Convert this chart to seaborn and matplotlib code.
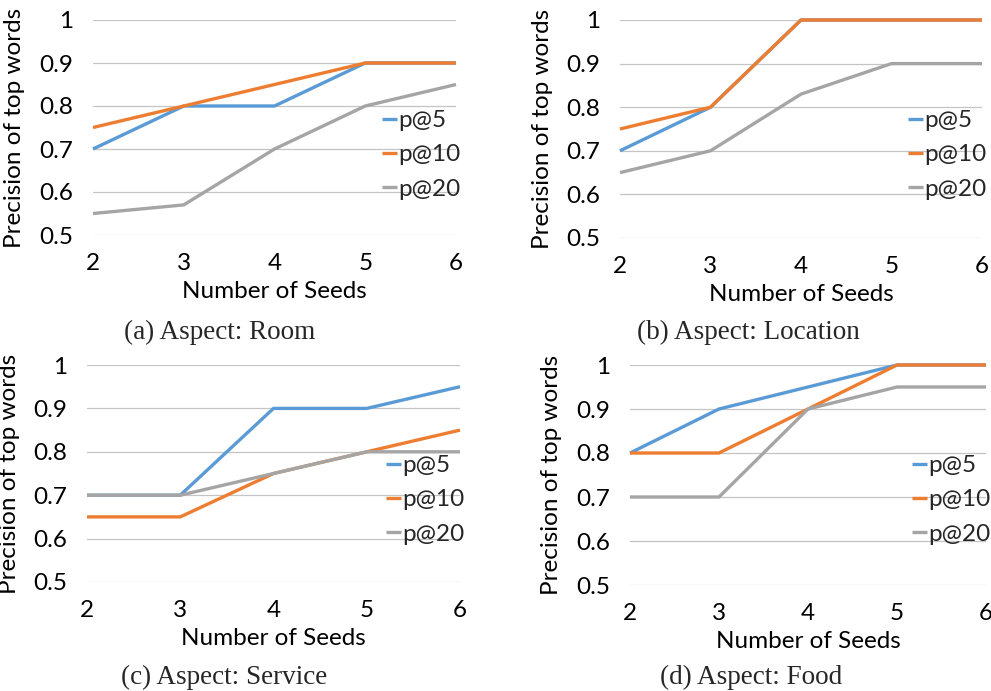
import matplotlib
matplotlib.use("Agg")
import matplotlib.pyplot as plt
import pandas as pd
import seaborn as sns

seeds = [2, 3, 4, 5, 6]
series_names = ["p@5", "p@10", "p@20"]
colors = ["#5B9BD5", "#ED7D31", "#A5A5A5"]

room_p5 = [0.70, 0.80, 0.80, 0.90, 0.90]
room_p10 = [0.75, 0.80, 0.85, 0.90, 0.90]
room_p20 = [0.55, 0.57, 0.70, 0.80, 0.85]

location_p5 = [0.70, 0.80, 1.00, 1.00, 1.00]
location_p10 = [0.75, 0.80, 1.00, 1.00, 1.00]
location_p20 = [0.65, 0.70, 0.83, 0.90, 0.90]

service_p5 = [0.70, 0.70, 0.90, 0.90, 0.95]
service_p10 = [0.65, 0.65, 0.75, 0.80, 0.85]
service_p20 = [0.70, 0.70, 0.75, 0.80, 0.80]

food_p5 = [0.80, 0.90, 0.95, 1.00, 1.00]
food_p10 = [0.80, 0.80, 0.90, 1.00, 1.00]
food_p20 = [0.70, 0.70, 0.90, 0.95, 0.95]

y_ticks = [0.5, 0.6, 0.7, 0.8, 0.9, 1.0]
y_tick_labels = ["0.5", "0.6", "0.7", "0.8", "0.9", "1"]

panels = [
    ("(a) Aspect: Room", [room_p5, room_p10, room_p20]),
    ("(b) Aspect: Location", [location_p5, location_p10, location_p20]),
    ("(c) Aspect: Service", [service_p5, service_p10, service_p20]),
    ("(d) Aspect: Food", [food_p5, food_p10, food_p20]),
]

sns.set_theme(style="white")
plt.rcParams["font.family"] = ["Lato", "DejaVu Sans"]

W, H = 991, 691
fig = plt.figure(figsize=(W / 100, H / 100), dpi=100)

FS = 17.5

# axes boxes in pixels: left, right, top, bottom
boxes = [(93, 456, 20, 235), (620, 982, 20, 238),
         (87, 460, 365, 582), (630, 986, 365, 585)]
legend_x = [382, 908, 386, 912]
legend_top = [110, 110, 455, 455]
ylabel_x = [25, 553, 20, 562]
caption_pos = [(220, 332), (748, 332), (224, 677), (751, 677)]

for i, (caption, values) in enumerate(panels):
    l, r, t, b = boxes[i]
    ax = fig.add_axes([l / W, 1 - b / H, (r - l) / W, (b - t) / H])
    df = pd.DataFrame({
        "seeds": seeds * 3,
        "precision": values[0] + values[1] + values[2],
        "series": [n for n in series_names for _ in seeds],
    })
    sns.lineplot(data=df, x="seeds", y="precision", hue="series",
                 hue_order=series_names, palette=colors, linewidth=2.4,
                 ax=ax, legend=True)
    for line in ax.lines:
        line.set_clip_on(False)
        line.set_solid_capstyle("butt")
    ax.set_xlim(2, 6)
    ax.set_ylim(0.5, 1.0)
    ax.set_xticks(seeds)
    ax.set_yticks(y_ticks)
    ax.set_yticklabels(y_tick_labels)
    ax.grid(axis="y", color="#c4c4c4", linewidth=0.9)
    ax.grid(axis="x", visible=False)
    ax.set_axisbelow(True)
    for s in ax.spines.values():
        s.set_visible(False)
    ax.tick_params(axis="both", length=0, labelsize=FS, colors="black")
    ax.tick_params(axis="y", pad=14)
    ax.tick_params(axis="x", pad=13)
    ax.set_xlabel("Number of Seeds", fontsize=FS, color="black", labelpad=5)
    ax.set_ylabel("Precision of top words", fontsize=FS, color="black")
    ax.yaxis.set_label_coords((ylabel_x[i] - l) / (r - l), 0.5)

    lx = (legend_x[i] - l) / (r - l)
    ly = (b - legend_top[i]) / (b - t)
    leg = ax.legend(loc="upper left", bbox_to_anchor=(lx, ly), frameon=False,
                    fontsize=FS, handlelength=0.62, handletextpad=0.05,
                    labelspacing=0.55, borderpad=0, borderaxespad=0)
    for h in leg.get_lines():
        h.set_linewidth(2.4)

    cx, cy = caption_pos[i]
    fig.text(cx / W, 1 - cy / H, caption, ha="center", va="center",
             fontsize=19.5, family=["Liberation Serif", "DejaVu Serif"])

fig.savefig("out.png", dpi=100)
